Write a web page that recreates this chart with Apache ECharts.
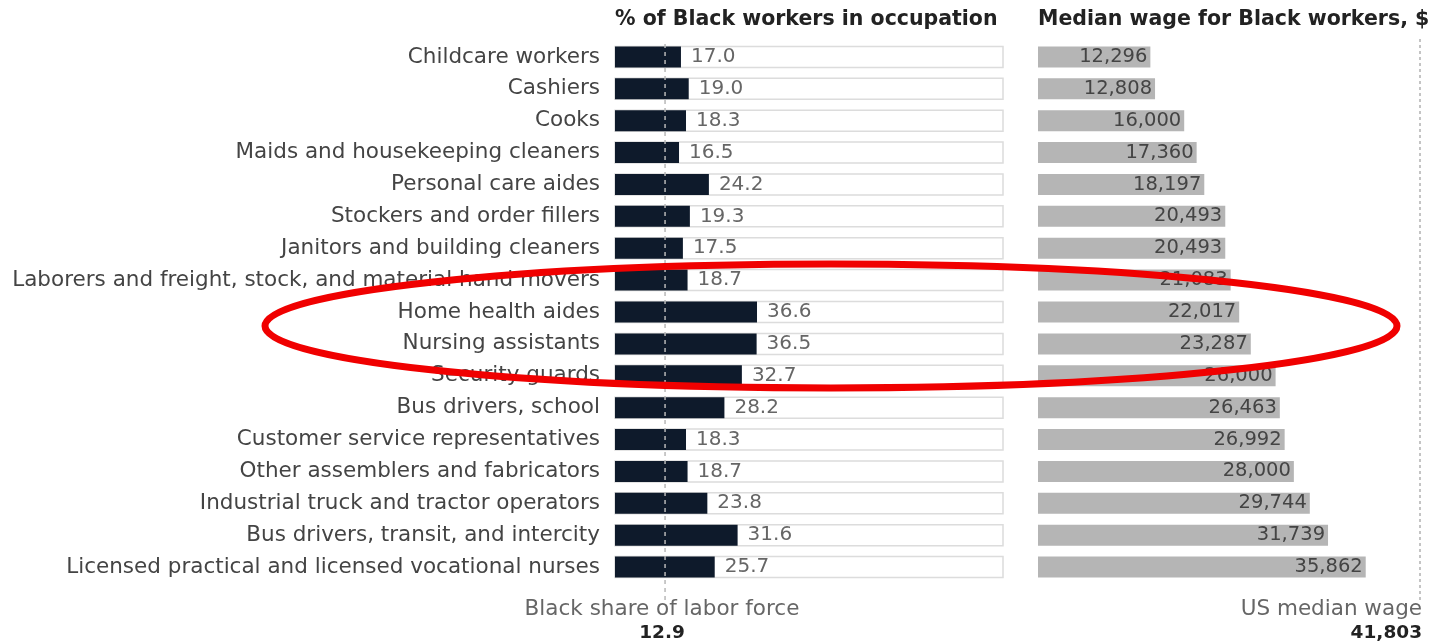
<!DOCTYPE html>
<html>
<head>
<meta charset="utf-8">
<script src="https://cdn.jsdelivr.net/npm/echarts@6/dist/echarts.min.js"></script>
<style>
  html, body { margin: 0; padding: 0; background: #fff; }
  #chart { width: 1429px; height: 643px; }
</style>
</head>
<body>
<div id="chart"></div>
<script>
// Occupations, top to bottom
const categories = [
  'Childcare workers',
  'Cashiers',
  'Cooks',
  'Maids and housekeeping cleaners',
  'Personal care aides',
  'Stockers and order fillers',
  'Janitors and building cleaners',
  'Laborers and freight, stock, and material hand movers',
  'Home health aides',
  'Nursing assistants',
  'Security guards',
  'Bus drivers, school',
  'Customer service representatives',
  'Other assemblers and fabricators',
  'Industrial truck and tractor operators',
  'Bus drivers, transit, and intercity',
  'Licensed practical and licensed vocational nurses'
];

// % of Black workers in each occupation
const shareValues = [17.0, 19.0, 18.3, 16.5, 24.2, 19.3, 17.5, 18.7, 36.6, 36.5, 32.7, 28.2, 18.3, 18.7, 23.8, 31.6, 25.7];

// Median wage for Black workers, $
const wageValues = [12296, 12808, 16000, 17360, 18197, 20493, 20493, 21083, 22017, 23287, 26000, 26463, 26992, 28000, 29744, 31739, 35862];

// Reference lines
const laborForceShare = 12.9;
const usMedianWage = 41803;

const FONT = '"DejaVu Sans", Verdana, sans-serif';

const chart = echarts.init(document.getElementById('chart'));

const rowTop = 41, rowHeight = 542;

chart.setOption({
  animation: false,
  textStyle: { fontFamily: FONT },
  grid: [
    { left: 615, top: rowTop, width: 388, height: rowHeight },
    { left: 1038, top: rowTop, width: 382, height: rowHeight },
    // overlay grids for the reference lines, taller than the rows
    { left: 615, top: rowTop, width: 388, height: 559 },
    { left: 1038, top: 37, width: 382, height: 563 }
  ],
  xAxis: [
    { gridIndex: 0, type: 'value', min: 0, max: 100, show: false },
    { gridIndex: 1, type: 'value', min: 0, max: usMedianWage, show: false },
    { gridIndex: 2, type: 'value', min: 0, max: 100, show: false },
    { gridIndex: 3, type: 'value', min: 0, max: usMedianWage, show: false }
  ],
  yAxis: [
    {
      gridIndex: 0, type: 'category', data: categories, inverse: true,
      axisLine: { show: false }, axisTick: { show: false }, splitLine: { show: false },
      axisLabel: { color: '#444', fontSize: 21.5, margin: 15, fontFamily: FONT }
    },
    {
      gridIndex: 1, type: 'category', data: categories, inverse: true,
      axisLine: { show: false }, axisTick: { show: false }, axisLabel: { show: false }
    },
    { gridIndex: 2, type: 'value', min: 0, max: 1, show: false },
    { gridIndex: 3, type: 'value', min: 0, max: 1, show: false }
  ],
  series: [
    {
      name: '% of Black workers in occupation',
      type: 'bar',
      xAxisIndex: 0, yAxisIndex: 0,
      data: shareValues,
      barWidth: 21,
      itemStyle: { color: '#0e1a2b' },
      showBackground: true,
      backgroundStyle: { color: '#ffffff', borderColor: '#dcdcdc', borderWidth: 1.5 },
      label: {
        show: true, position: 'right', distance: 10,
        color: '#666', fontSize: 20, fontFamily: FONT,
        formatter: p => p.value.toFixed(1)
      }
    },
    {
      name: 'Median wage for Black workers, $',
      type: 'bar',
      xAxisIndex: 1, yAxisIndex: 1,
      data: wageValues,
      barWidth: 21,
      itemStyle: { color: '#b5b5b5' },
      label: {
        show: true, position: 'insideRight', distance: 3,
        color: '#444', fontSize: 19.5, fontFamily: FONT,
        formatter: p => p.value.toLocaleString('en-US')
      }
    },
    {
      name: 'Black share of labor force',
      type: 'line',
      xAxisIndex: 2, yAxisIndex: 2,
      data: [[laborForceShare, 0], [laborForceShare, 1]],
      symbol: 'none', z: 5,
      lineStyle: { color: '#b8b8b8', width: 1.5, type: [4, 4] }
    },
    {
      name: 'US median wage',
      type: 'line',
      xAxisIndex: 3, yAxisIndex: 3,
      data: [[usMedianWage, 0], [usMedianWage, 1]],
      symbol: 'none', z: 5,
      lineStyle: { color: '#b0b0b0', width: 1.5, type: [3, 3] }
    }
  ],
  graphic: [
    {
      type: 'text', left: 615, top: 9,
      style: { text: '% of Black workers in occupation', fill: '#222', font: 'bold 20.5px ' + FONT }
    },
    {
      type: 'text', left: 1038, top: 9,
      style: { text: 'Median wage for Black workers, $', fill: '#222', font: 'bold 20.5px ' + FONT }
    },
    {
      type: 'text', x: 662, y: 598,
      style: { text: 'Black share of labor force', fill: '#666', font: '21.5px ' + FONT, textAlign: 'center' }
    },
    {
      type: 'text', x: 662, y: 624,
      style: { text: '12.9', fill: '#222', font: 'bold 18.5px ' + FONT, textAlign: 'center' }
    },
    {
      type: 'text', x: 1422, y: 598,
      style: { text: 'US median wage', fill: '#666', font: '21.5px ' + FONT, textAlign: 'right' }
    },
    {
      type: 'text', x: 1422, y: 624,
      style: { text: '41,803', fill: '#222', font: 'bold 18.5px ' + FONT, textAlign: 'right' }
    },
    // red highlight around the care-work rows
    {
      type: 'ellipse', z: 100,
      shape: { cx: 831, cy: 326, rx: 566, ry: 62 },
      style: { fill: 'none', stroke: '#f00000', lineWidth: 7 }
    }
  ]
});
</script>
</body>
</html>
